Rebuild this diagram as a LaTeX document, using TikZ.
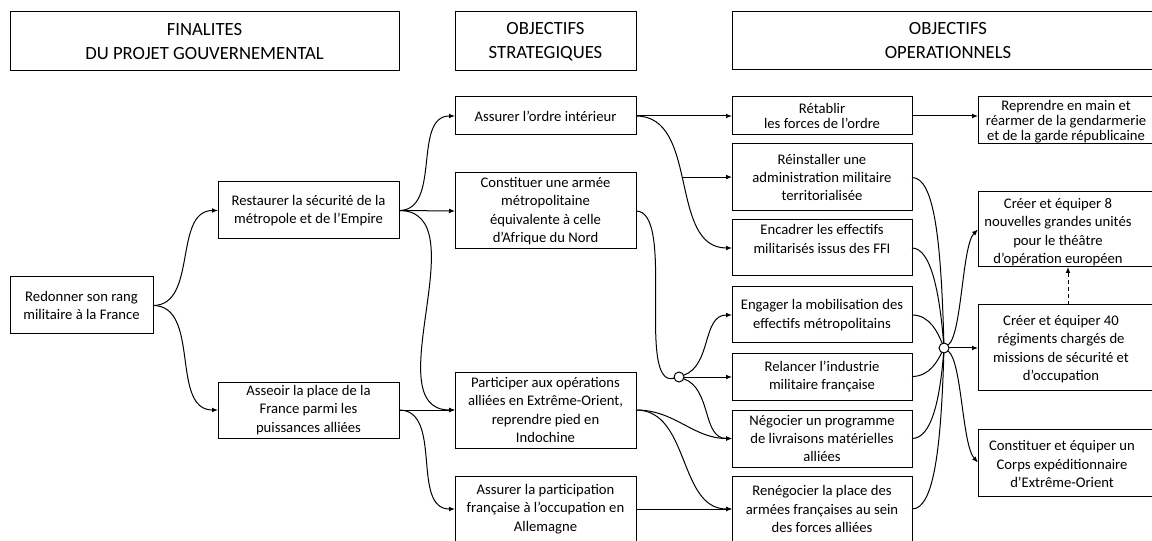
\documentclass[tikz,border=0pt]{standalone}
\usepackage{fontspec}
\setmainfont{Carlito}
\usetikzlibrary{arrows.meta}
\newcommand\mybox[7][box]{\node[#1,minimum width={(#5-#3)*0.75pt},minimum height={(#6-#4)*0.75pt}] (#2) at ({(#3+#5)/2},{(#4+#6)/2}) {#7};}
\begin{document}
\begin{tikzpicture}[x=0.75pt,y=-0.75pt,
  box/.style={draw=black,line width=0.75pt,align=center,inner sep=1pt,outer sep=0pt,font=\fontsize{11}{13.75}\selectfont},
  tbox/.style={box,font=\fontsize{11}{11.2}\selectfont},
  hdr/.style={box,font=\fontsize{14}{18}\selectfont},
  txt/.style={align=center,inner sep=0pt,font=\fontsize{11}{13.75}\selectfont},
  ttxt/.style={txt,font=\fontsize{11}{11.2}\selectfont},
  arr/.style={line width=0.75pt,-{Latex[length=4.5pt,width=3.6pt]}},
  ln/.style={line width=0.75pt},
  dsh/.style={dash pattern=on 3pt off 2.25pt},
  junc/.style={circle,draw,fill=white,line width=0.75pt,minimum size=7.5pt,inner sep=0pt,outer sep=0pt}]
\useasboundingbox (0,0) rectangle (1152,541);
\clip (0,0) rectangle (1152,541);
% headers
\mybox[hdr]{h1}{10}{12}{399}{71}{FINALITES\\DU PROJET GOUVERNEMENTAL}
\mybox[hdr]{h2}{455}{12}{636}{71}{OBJECTIFS\\STRATEGIQUES}
\mybox[hdr]{h3}{732}{12}{1164}{70}{OBJECTIFS\\OPERATIONNELS}
% column 1-2
\mybox{redo}{10}{277}{153}{334}{Redonner son rang\\militaire à la France}
\mybox{rest}{218}{182}{399}{239}{Restaurer la sécurité de la\\métropole et de l’Empire}
\mybox{asse}{218}{382}{399}{438}{Asseoir la place de la\\France parmi les\\puissances alliées}
% column 3
\mybox{ordr}{455}{97}{636}{135}{Assurer l’ordre intérieur}
\mybox{cons}{455}{173}{636}{249}{Constituer une armée\\métropolitaine\\équivalente à celle\\d’Afrique du Nord}
\mybox{part}{455}{372}{636}{448}{Participer aux opérations\\alliées en Extrême-Orient,\\reprendre pied en\\Indochine}
\mybox{alle}{455}{476}{636}{542}{Assurer la participation\\française à l’occupation en\\Allemagne}
% column 4
\mybox[tbox]{reta}{732}{97}{912}{135}{Rétablir\\les forces de l’ordre}
\mybox{rein}{732}{144}{912}{211}{Réinstaller une\\administration militaire\\territorialisée}
\mybox{enca}{732}{220}{912}{276}{Encadrer les effectifs\\militarisés issus des FFI\\\mbox{}}
\mybox{enga}{732}{287}{912}{343}{Engager la mobilisation des\\effectifs métropolitains}
\mybox{rela}{732}{353}{912}{400}{Relancer l’industrie\\militaire française}
\mybox{nego}{732}{410}{912}{467}{Négocier un programme\\de livraisons matérielles\\alliées}
\mybox{rene}{732}{476}{912}{542}{Renégocier la place des\\armées françaises au sein\\des forces alliées}
% column 5
\mybox{repr}{978}{97}{1158}{144}{}
\node[ttxt] (reprt) at (1066,122) {Reprendre en main et\\réarmer de la gendarmerie\\et de la garde républicaine};
\mybox{cr8}{978}{192}{1158}{267}{}
\node[txt] (cr8t) at (1058,232) {Créer et équiper 8\\nouvelles grandes unités\\pour le théâtre\\d’opération européen};
\mybox{cr40}{978}{305}{1158}{390}{}
\node[txt] (cr40t) at (1061,349) {Créer et équiper 40\\régiments chargés de\\missions de sécurité et\\d’occupation};
\mybox{corp}{978}{429}{1158}{496}{}
\node[txt] (corpt) at (1062,464) {Constituer et équiper un\\Corps expéditionnaire\\d’Extrême-Orient};
% junctions
\node[junc] (mc) at (679,377) {};
\node[junc] (rc) at (944,348) {};
% connectors
\draw[arr] (redo.east) to[out=0,in=180] (rest.west);
\draw[arr] (redo.east) to[out=0,in=180] (asse.west);
\draw[arr] (rest.east) to[out=0,in=180] (ordr.west);
\draw[arr] (rest.east) -- (cons.west);
\draw[arr] (rest.east) to[out=0,in=180] (part.west);
\draw[arr] (asse.east) -- (part.west);
\draw[arr] (asse.east) to[out=0,in=180] (alle.west);
\draw[arr] (ordr.east) -- (reta.west);
\draw[arr] (ordr.east) to[out=0,in=180] coordinate[pos=0.475] (br) (enca.west);
\draw[arr] (br) -- (br -| rein.west);
\draw[ln] (cons.east) to[out=0,in=195,looseness=0.6] (mc);
\draw[arr] (mc) to[out=20,in=180] (enga.west);
\draw[arr] (mc) -- (mc -| rela.west);
\draw[arr] (mc) to[out=-20,in=180] (nego.west);
\draw[arr] (part.east) to[out=0,in=180] (nego.west);
\draw[arr] (part.east) to[out=0,in=180] (rene.west);
\draw[arr] (alle.east) -- (rene.west);
\draw[arr] (reta.east) -- (reta.east -| repr.west);
\draw[ln] (rein.east) .. controls +(22,0) and +(-3,-110) .. (rc);
\draw[ln] (enca.east) .. controls +(20,0) and +(-4,-50) .. (rc);
\draw[ln] (enga.east) .. controls +(18,0) and +(-6,-15) .. (rc);
\draw[ln] (rela.east) .. controls +(18,0) and +(-6,12) .. (rc);
\draw[ln] (nego.east) .. controls +(20,0) and +(-4,50) .. (rc);
\draw[ln] (rene.east) .. controls +(22,0) and +(-3,100) .. (rc);
\draw[arr] (rc) .. controls (962,335) and (962,245) .. (cr8.west);
\draw[arr] (rc) -- (rc -| cr40.west);
\draw[arr] (rc) .. controls (962,361) and (962,445) .. (corp.west);
\draw[arr,dsh] (cr40.north -| 1068,0) -- (cr8.south -| 1068,0);
\end{tikzpicture}
\end{document}
